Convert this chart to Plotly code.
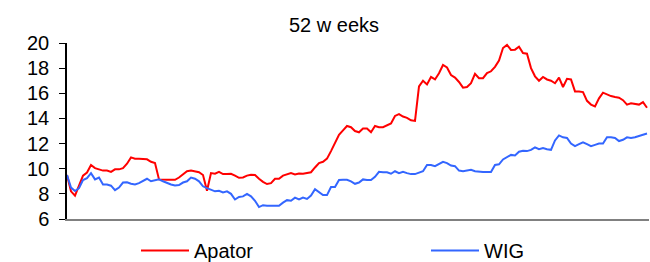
import plotly.graph_objects as go

apator = [9.5, 8.2, 7.85, 8.7, 9.45, 9.7, 10.3, 10.05, 9.95, 9.85,
          9.85, 9.75, 9.95, 9.95, 10.05, 10.4, 10.9, 10.8, 10.8, 10.75,
          10.75, 10.55, 10.45, 9.15, 9.12, 9.12, 9.12, 9.12, 9.3, 9.55,
          9.8, 9.85, 9.78, 9.72, 9.5, 8.25, 9.65, 9.6, 9.75, 9.57,
          9.57, 9.6, 9.45, 9.28, 9.3, 9.45, 9.52, 9.5, 9.2, 8.95,
          8.78, 8.85, 9.2, 9.2, 9.45, 9.55, 9.65, 9.55, 9.62, 9.6,
          9.68, 9.72, 10.1, 10.45, 10.55, 10.8, 11.4, 12.0, 12.7, 13.05,
          13.4, 13.3, 13.0, 12.9, 13.2, 13.2, 12.9, 13.4, 13.3, 13.3,
          13.45, 13.6, 14.2, 14.35, 14.15, 14.05, 13.85, 13.8, 16.55, 17.0,
          16.7, 17.3, 17.1, 17.6, 18.25, 18.05, 17.45, 17.25, 16.9, 16.45,
          16.5, 16.8, 17.55, 17.2, 17.2, 17.6, 17.75, 18.1, 18.6, 19.6,
          19.85, 19.45, 19.47, 19.7, 19.2, 19.15, 18.0, 17.35, 17.0, 17.3,
          17.1, 17.0, 16.8, 17.25, 16.5, 17.15, 17.1, 16.15, 16.15, 16.1,
          15.4, 15.1, 14.95, 15.6, 16.05, 15.9, 15.78, 15.7, 15.65, 15.45,
          15.1, 15.2, 15.15, 15.1, 15.3, 14.85]

wig = [9.5, 8.5, 8.22, 8.45, 9.1, 9.25, 9.65, 9.15, 9.3, 8.75,
       8.75, 8.65, 8.3, 8.5, 8.9, 8.92, 8.8, 8.75, 8.85, 9.0,
       9.2, 9.0, 9.1, 9.15, 9.0, 8.85, 8.75, 8.67, 8.7, 8.9,
       9.0, 9.3, 9.2, 9.0, 8.6, 8.45, 8.35, 8.2, 8.25, 8.12,
       8.2, 8.0, 7.55, 7.75, 7.8, 8.0, 7.8, 7.45, 6.95, 7.1,
       7.05, 7.05, 7.1, 7.05, 7.3, 7.5, 7.45, 7.7, 7.55, 7.7,
       7.6, 7.87, 8.37, 8.1, 7.9, 7.9, 8.55, 8.55, 9.1, 9.12,
       9.12, 9.0, 8.8, 8.9, 9.15, 9.1, 9.1, 9.35, 9.75, 9.72,
       9.72, 9.6, 9.8, 9.65, 9.75, 9.65, 9.57, 9.57, 9.7, 9.8,
       10.3, 10.3, 10.2, 10.4, 10.55, 10.45, 10.25, 10.2, 9.85, 9.8,
       9.85, 9.92, 9.8, 9.74, 9.74, 9.74, 9.74, 10.3, 10.35, 10.74,
       10.95, 11.1, 11.05, 11.35, 11.42, 11.4, 11.5, 11.7, 11.55, 11.65,
       11.55, 11.5, 12.25, 12.65, 12.5, 12.45, 12.0, 11.8, 11.95, 12.1,
       11.95, 11.8, 11.9, 12.0, 12.0, 12.5, 12.5, 12.45, 12.2, 12.3,
       12.5, 12.45, 12.5, 12.6, 12.65, 12.8]

days = list(range(len(apator)))
y_ticks = [6, 8, 10, 12, 14, 16, 18, 20]
title_text = "52 w eeks"

FONT = "Liberation Sans, Arial, sans-serif"

fig = go.Figure()
fig.add_trace(go.Scatter(x=days, y=apator, mode="lines", name="Apator",
                         line=dict(color="#ff0000", width=2)))
fig.add_trace(go.Scatter(x=days, y=wig, mode="lines", name="WIG",
                         line=dict(color="#3366ff", width=2)))

fig.update_layout(
    width=650, height=262,
    margin=dict(l=67, r=1, t=43, b=32),
    paper_bgcolor="white", plot_bgcolor="white",
    font=dict(family=FONT, size=20, color="black"),
    title=dict(text=title_text, x=334 / 650, xanchor="center",
               y=1 - 25 / 262, yanchor="middle",
               font=dict(family=FONT, size=20, color="black")),
    showlegend=True,
    legend=dict(orientation="h", xref="container", yref="container",
                x=136 / 650, xanchor="left", y=1 - 231 / 262, yanchor="top",
                entrywidth=227, entrywidthmode="pixels", itemwidth=48,
                font=dict(family=FONT, size=20, color="black"),
                bgcolor="rgba(0,0,0,0)"),
    xaxis=dict(range=[0, len(apator) - 0.5], showgrid=False, zeroline=False,
               showticklabels=False, ticks="", showline=True,
               linecolor="#808080", linewidth=2),
    yaxis=dict(range=[6, 20], tickvals=y_ticks, showgrid=False, zeroline=False,
               showline=True, linecolor="black", linewidth=1.5,
               ticks="outside", ticklen=6, tickcolor="black", tickwidth=1,
               ticklabelstandoff=6,
               tickfont=dict(family=FONT, size=20, color="black")),
)

fig.write_html(
    "out.html",
    config={"displayModeBar": False},
    post_script="document.body.style.margin='0';document.body.style.overflow='hidden';",
)
